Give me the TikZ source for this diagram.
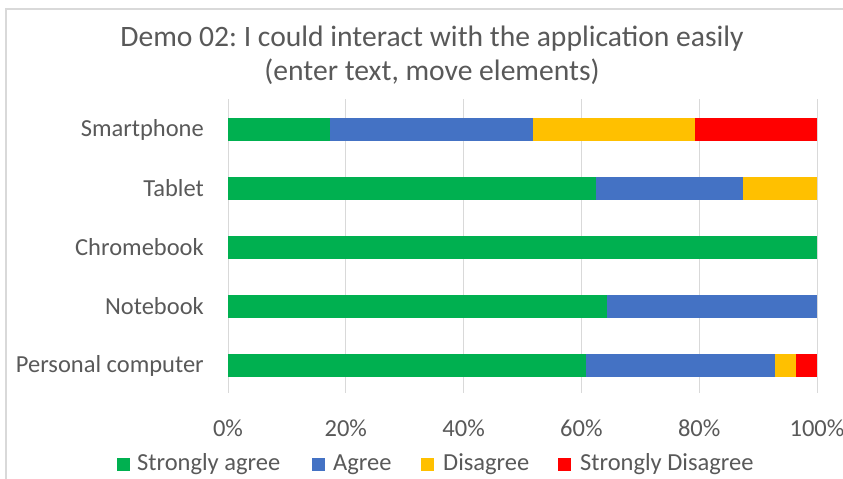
\documentclass[tikz,border=0pt]{standalone}
\usepackage{fontspec}
\setmainfont{Carlito}
\frenchspacing
\definecolor{sagree}{HTML}{00B050}
\definecolor{agree}{HTML}{4472C4}
\definecolor{disagree}{HTML}{FFC000}
\definecolor{sdisagree}{HTML}{FF0000}
\definecolor{txt}{HTML}{595959}
\definecolor{grid}{HTML}{D9D9D9}
\begin{document}
\begin{tikzpicture}[x=1pt,y=-1pt,
  lbl/.style={text=txt,font=\fontsize{24.5}{29}\selectfont,inner sep=0pt},
  cat/.style={lbl,anchor=east},
  tick/.style={lbl,anchor=center},
  leg/.style={lbl,anchor=west},
  sq/.style={minimum size=13pt,inner sep=0pt,anchor=west},
  gridline/.style={draw=grid,line width=0.8pt}]
\useasboundingbox (0,0) rectangle (843,479);
\fill[white] (0,0) rectangle (843,479);
% frame
\draw[grid,line width=2pt] (6,479) -- (6,9) -- (843,9);
% title
\node[text=txt,font=\fontsize{29.6}{34}\selectfont,align=center,inner sep=0pt] (title) at (432,55) {Demo 02: I could interact with the application easily\\(enter text, move elements)};
% gridlines
\foreach \i in {0,1,2,3,4,5}{
  \draw[gridline] ({228+117.8*\i},99) -- ({228+117.8*\i},393);
}
% ticks
\foreach \i/\t in {0/0\%,1/20\%,2/40\%,3/60\%,4/80\%,5/100\%}{
  \node[tick] (t\i) at ({228+117.8*\i},428) {\t};
}
% bars
\def\X#1{228+589*#1}
\newcommand{\seg}[4]{\fill[#4] ({\X{#2}},{#1-11.5}) rectangle ({\X{#3}},{#1+11.5});}
% Smartphone
\seg{129.5}{0}{0.1724}{sagree}
\seg{129.5}{0.1724}{0.5172}{agree}
\seg{129.5}{0.5172}{0.7931}{disagree}
\seg{129.5}{0.7931}{1}{sdisagree}
% Tablet
\seg{188.5}{0}{0.625}{sagree}
\seg{188.5}{0.625}{0.875}{agree}
\seg{188.5}{0.875}{1}{disagree}
% Chromebook
\seg{247.5}{0}{1}{sagree}
% Notebook
\seg{306.5}{0}{0.6429}{sagree}
\seg{306.5}{0.6429}{1}{agree}
% Personal computer
\seg{365.5}{0}{0.6071}{sagree}
\seg{365.5}{0.6071}{0.9286}{agree}
\seg{365.5}{0.9286}{0.9643}{disagree}
\seg{365.5}{0.9643}{1}{sdisagree}
% category labels
\node[cat] (c1) at (204,129.5) {Smartphone};
\node[cat] (c2) at (204,188.5) {Tablet};
\node[cat] (c3) at (204,247.5) {Chromebook};
\node[cat] (c4) at (204,306.5) {Notebook};
\node[cat] (c5) at (204,365.5) {Personal computer};
% legend
\node[sq,fill=sagree] (l1) at (117,464.5) {};
\node[leg] (lt1) at (137,464.5) {Strongly agree};
\node[sq,fill=agree] (l2) at (312,464.5) {};
\node[leg] (lt2) at (333,464.5) {Agree};
\node[sq,fill=disagree] (l3) at (421,464.5) {};
\node[leg] (lt3) at (443,464.5) {Disagree};
\node[sq,fill=sdisagree] (l4) at (558,464.5) {};
\node[leg] (lt4) at (580,464.5) {Strongly Disagree};
\end{tikzpicture}
\end{document}
